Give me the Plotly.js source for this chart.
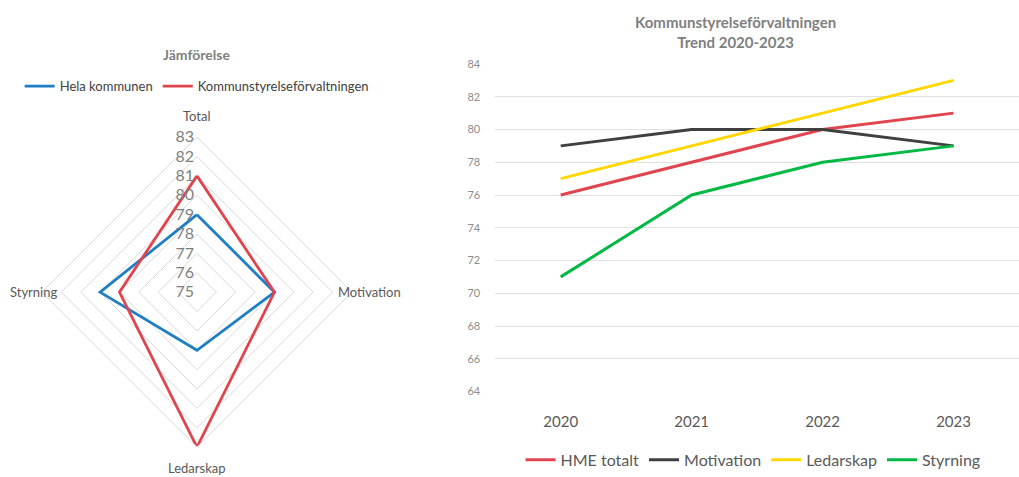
<!DOCTYPE html>
<html>
<head>
<meta charset="utf-8">
<script src="https://cdn.plot.ly/plotly-3.0.1.min.js"></script>
<style>html,body{margin:0;padding:0;background:#fff;}#chart{width:1019px;height:477px;}</style>
</head>
<body>
<div id="chart"></div>
<script>
// Radar (Jämförelse)
const radarAxes = ["Total", "Motivation", "Ledarskap", "Styrning"];
const helaKommunen = [79, 79, 78, 80];
const kommunstyrelse = [81, 79, 83, 79];
const radarTicks = [75, 76, 77, 78, 79, 80, 81, 82, 83];

// Trend 2020-2023
const years = ["2020", "2021", "2022", "2023"];
const hmeTotalt = [76, 78, 80, 81];
const motivation = [79, 80, 80, 79];
const ledarskap = [77, 79, 81, 83];
const styrning = [71, 76, 78, 79];

const FONT = "Lato, 'Open Sans', sans-serif";
const close = a => a.concat([a[0]]);

const traces = [
  {type: "scatterpolar", r: close(helaKommunen), theta: close(radarAxes), mode: "lines",
   name: "Hela kommunen", line: {color: "#1f7fc4", width: 2.8}, subplot: "polar", legend: "legend"},
  {type: "scatterpolar", r: close(kommunstyrelse), theta: close(radarAxes), mode: "lines",
   name: "Kommunstyrelseförvaltningen", line: {color: "#e0444f", width: 2.8}, subplot: "polar", legend: "legend"},
  {type: "scatter", x: years, y: hmeTotalt, mode: "lines", name: "HME totalt",
   line: {color: "#e0444f", width: 3}, legend: "legend2"},
  {type: "scatter", x: years, y: motivation, mode: "lines", name: "Motivation",
   line: {color: "#404040", width: 3}, legend: "legend2"},
  {type: "scatter", x: years, y: ledarskap, mode: "lines", name: "Ledarskap",
   line: {color: "#ffd700", width: 3}, legend: "legend2"},
  {type: "scatter", x: years, y: styrning, mode: "lines", name: "Styrning",
   line: {color: "#00b944", width: 3}, legend: "legend2"}
];

// Positions (paper fractions) of the radar's category labels
const radarLabelPos = [
  {x: 0.193, y: 0.755, xanchor: "center"},
  {x: 0.330, y: 0.383, xanchor: "left"},
  {x: 0.193, y: 0.012, xanchor: "center"},
  {x: 0.058, y: 0.383, xanchor: "right"}
];

const annotations = [
  {text: "<b>Jämförelse</b>", xref: "paper", yref: "paper", x: 0.193, y: 0.885,
   xanchor: "center", yanchor: "middle", showarrow: false,
   font: {size: 14, color: "#7f7f7f", family: FONT}},
  {text: "<b>Kommunstyrelseförvaltningen<br>Trend 2020-2023</b>", xref: "paper", yref: "paper",
   x: 0.722, y: 0.932, xanchor: "center", yanchor: "middle", showarrow: false,
   font: {size: 15, color: "#7f7f7f", family: FONT}}
].concat(radarAxes.map((t, i) => ({
  text: t, xref: "paper", yref: "paper", x: radarLabelPos[i].x, y: radarLabelPos[i].y,
  xanchor: radarLabelPos[i].xanchor, yanchor: "middle", showarrow: false,
  font: {size: 13, color: "#595959", family: FONT}
})));

const layout = {
  width: 1019, height: 477,
  margin: {l: 0, r: 0, t: 0, b: 0},
  paper_bgcolor: "#ffffff", plot_bgcolor: "#ffffff",
  font: {family: FONT, color: "#7f7f7f"},
  polar: {
    domain: {x: [0.0402, 0.3464], y: [0.0566, 0.7107]},
    bgcolor: "#ffffff",
    gridshape: "linear",
    radialaxis: {range: [75, 83], tickvals: radarTicks, angle: 90, tickangle: 90, side: "counterclockwise",
                 showline: false, ticks: "", gridcolor: "#d9d9d9", gridwidth: 1,
                 tickfont: {size: 16, color: "#7f7f7f", family: FONT}},
    angularaxis: {type: "category", categoryarray: radarAxes, direction: "clockwise", rotation: 90,
                  showgrid: false, showline: true, linecolor: "#d9d9d9", linewidth: 1, ticks: "",
                  showticklabels: false}
  },
  xaxis: {domain: [0.486, 1], type: "category", range: [-0.5, 3.5], showgrid: false,
          zeroline: false, showline: false, ticks: "", ticklabelstandoff: 19,
          tickfont: {size: 15, color: "#595959", family: FONT}},
  yaxis: {domain: [0.174, 0.865], range: [64, 84], dtick: 2, showgrid: true,
          gridcolor: "#e0e0e0", gridwidth: 1, zeroline: false, showline: false, ticks: "",
          ticklabelstandoff: 14,
          tickfont: {size: 11, color: "#8c8c8c", family: FONT}},
  legend: {orientation: "h", x: 0.193, xanchor: "center", y: 0.818, yanchor: "middle",
           font: {size: 13, color: "#404040", family: FONT}, itemwidth: 30,
           bgcolor: "rgba(0,0,0,0)"},
  legend2: {orientation: "h", x: 0.739, xanchor: "center", y: 0.03, yanchor: "middle",
            font: {size: 16, color: "#595959", family: FONT}, itemwidth: 30,
            bgcolor: "rgba(0,0,0,0)"},
  annotations: annotations,
  showlegend: true
};

Plotly.newPlot("chart", traces, layout, {displayModeBar: false, staticPlot: true});
</script>
</body>
</html>
